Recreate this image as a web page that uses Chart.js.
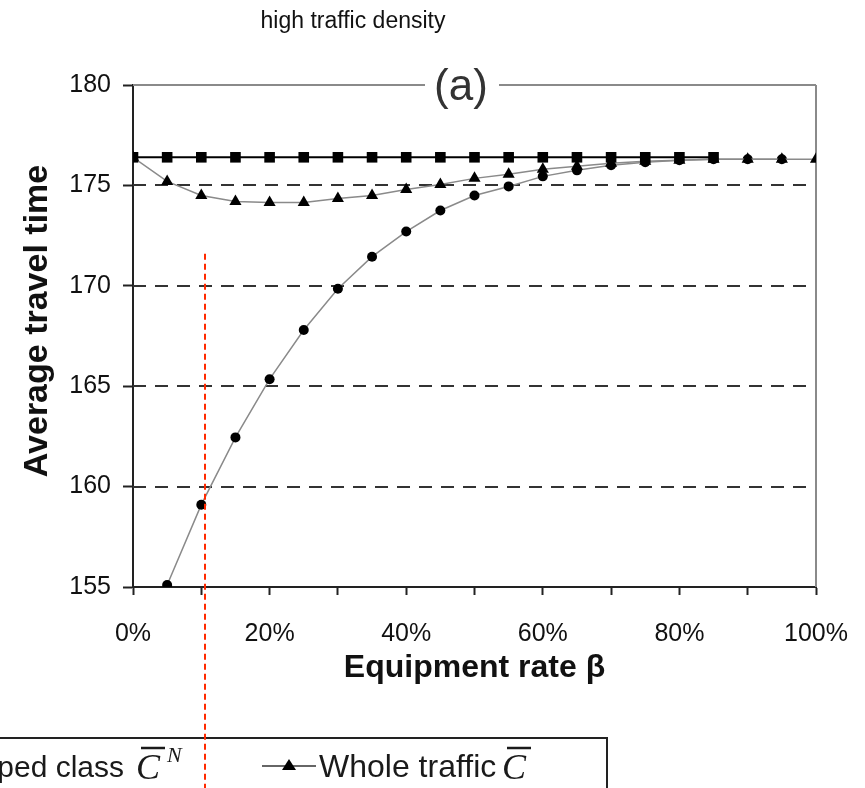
<!DOCTYPE html>
<html>
<head>
<meta charset="utf-8">
<script src="https://cdn.jsdelivr.net/npm/chart.js@4.4.1/dist/chart.umd.min.js"></script>
<style>
  html, body { margin: 0; padding: 0; background: #fff; overflow: hidden; }
  #wrap { width: 865px; height: 788px; position: relative; }
</style>
</head>
<body>
<div id="wrap"><canvas id="travelChart" width="865" height="788"></canvas></div>
<script>
// equipment rate beta (%)
const betaPct = [0, 5, 10, 15, 20, 25, 30, 35, 40, 45, 50, 55, 60, 65, 70, 75, 80, 85, 90, 95, 100];

// average travel time per class
const equippedTime    = [176.4, 176.4, 176.4, 176.4, 176.4, 176.4, 176.4, 176.4, 176.4, 176.4,
                         176.4, 176.4, 176.4, 176.4, 176.4, 176.4, 176.4, 176.4, null, null, null];
const nonEquippedTime = [null, 155.1, 159.1, 162.45, 165.35, 167.8, 169.85, 171.45, 172.7, 173.75,
                         174.5, 174.95, 175.45, 175.75, 176.0, 176.15, 176.25, 176.3, 176.3, 176.3, null];
const wholeTime       = [176.4, 175.2, 174.5, 174.2, 174.15, 174.15, 174.35, 174.5, 174.8, 175.05,
                         175.35, 175.55, 175.8, 175.95, 176.1, 176.2, 176.25, 176.3, 176.3, 176.3, 176.3];

const yMin = 155, yMax = 180, yStep = 5;
const xTickStep = 10, xLabelStep = 20;
const yTitle = 'Average travel time';

// red marker line drawn on top of the figure
const markerBeta = 10.5;
const markerTopTime = 171.6;

const FONT = 'Arial, "Liberation Sans", Helvetica, sans-serif';
const SERIF = '"Liberation Serif", "Times New Roman", serif';

const toPoints = arr => betaPct.map((b, i) => ({ x: b, y: arr[i] }));

function drawLine(ctx, x1, y1, x2, y2) {
  ctx.beginPath();
  ctx.moveTo(x1, y1);
  ctx.lineTo(x2, y2);
  ctx.stroke();
}

// italic C with overline and optional superscript
function drawCbar(ctx, x, base, sup) {
  ctx.save();
  ctx.fillStyle = '#1a1a1a';
  ctx.strokeStyle = '#1a1a1a';
  ctx.font = 'italic 36px ' + SERIF;
  ctx.textAlign = 'left';
  ctx.textBaseline = 'alphabetic';
  ctx.fillText('C', x, base + 2);
  ctx.lineWidth = 2.5;
  drawLine(ctx, x + 5, base - 29, x + 29, base - 29);
  if (sup) {
    ctx.font = 'italic 22px ' + SERIF;
    ctx.fillText(sup, x + 31, base - 15);
  }
  ctx.restore();
}

const figurePlugin = {
  id: 'figure',
  beforeDatasetsDraw(chart) {
    const { ctx, chartArea: a, scales: { x, y } } = chart;
    ctx.save();
    // dashed horizontal grid
    ctx.strokeStyle = '#333';
    ctx.lineWidth = 2;
    ctx.setLineDash([13, 9]);
    y.ticks.forEach(t => {
      if (t.value > yMin && t.value < yMax) {
        const py = Math.round(y.getPixelForValue(t.value));
        drawLine(ctx, a.left, py, a.right, py);
      }
    });
    // top and right frame, gap for the panel label
    ctx.setLineDash([]);
    ctx.strokeStyle = '#8a8a8a';
    const top = Math.round(y.getPixelForValue(yMax));
    drawLine(ctx, a.left, top, 425, top);
    drawLine(ctx, 499, top, a.right, top);
    drawLine(ctx, a.right, top, a.right, a.bottom);
    ctx.restore();
  },
  afterDraw(chart) {
    const { ctx, chartArea: a, scales: { x, y } } = chart;
    ctx.save();
    ctx.fillStyle = '#111';
    ctx.textAlign = 'center';
    ctx.textBaseline = 'middle';
    ctx.font = '23px ' + FONT;
    ctx.fillText('high traffic density', 353, 22);
    ctx.fillStyle = '#333';
    ctx.font = '44px ' + FONT;
    ctx.fillText('(a)', 461, 88);

    // y axis title, sits a little above the axis centre
    ctx.save();
    ctx.translate(38, 321);
    ctx.rotate(-Math.PI / 2);
    ctx.fillStyle = '#111';
    ctx.font = 'bold 34px ' + FONT;
    ctx.fillText(yTitle, 0, 0);
    ctx.restore();

    // legend box (cut by the page edge on the left)
    ctx.fillStyle = '#fff';
    ctx.fillRect(-10, 738, 617, 60);
    ctx.strokeStyle = '#222';
    ctx.lineWidth = 2;
    ctx.strokeRect(-10, 738, 617, 60);
    ctx.fillStyle = '#1a1a1a';
    ctx.font = '30px ' + FONT;
    ctx.textAlign = 'right';
    ctx.textBaseline = 'alphabetic';
    const base = 777;
    ctx.fillText(chart.data.datasets[1].label, 124, base);
    drawCbar(ctx, 136, base, 'N');

    ctx.strokeStyle = '#333';
    ctx.lineWidth = 1.5;
    drawLine(ctx, 262, 766, 316, 766);
    ctx.fillStyle = '#000';
    ctx.beginPath();
    ctx.moveTo(289, 759);
    ctx.lineTo(296, 770);
    ctx.lineTo(282, 770);
    ctx.closePath();
    ctx.fill();
    ctx.fillStyle = '#1a1a1a';
    ctx.textAlign = 'left';
    ctx.font = '32px ' + FONT;
    ctx.fillText(chart.data.datasets[2].label, 319, base);
    drawCbar(ctx, 502, base, '');

    // red dashed marker
    ctx.strokeStyle = '#ff2a00';
    ctx.lineWidth = 2;
    ctx.setLineDash([6, 4]);
    const mx = Math.round(x.getPixelForValue(markerBeta));
    drawLine(ctx, mx, y.getPixelForValue(markerTopTime), mx, chart.height);
    ctx.restore();
  }
};

new Chart(document.getElementById('travelChart'), {
  type: 'line',
  data: {
    datasets: [{
      label: 'Equipped class',
      data: toPoints(equippedTime),
      borderColor: '#000',
      borderWidth: 2,
      pointStyle: 'rect',
      pointRadius: 7.5,
      pointBackgroundColor: '#000',
      pointBorderWidth: 0,
      order: 0,
    }, {
      label: 'Non-equipped class',
      data: toPoints(nonEquippedTime),
      borderColor: '#8a8a8a',
      borderWidth: 1.5,
      pointStyle: 'circle',
      pointRadius: 5,
      pointBackgroundColor: '#000',
      pointBorderWidth: 0,
      order: 2,
    }, {
      label: 'Whole traffic',
      data: toPoints(wholeTime),
      borderColor: '#8a8a8a',
      borderWidth: 1.5,
      pointStyle: 'triangle',
      pointRadius: 7,
      pointBackgroundColor: '#000',
      pointBorderWidth: 0,
      order: 1,
    }]
  },
  options: {
    responsive: false,
    animation: false,
    layout: { padding: { left: 0, top: 85, right: 49, bottom: 101 } },
    scales: {
      x: {
        type: 'linear',
        min: 0,
        max: 100,
        ticks: {
          stepSize: xTickStep,
          autoSkip: false,
          maxRotation: 0,
          padding: 24,
          color: '#111',
          font: { family: FONT, size: 25 },
          callback: v => (v % xLabelStep === 0 ? v + '%' : ''),
        },
        grid: { drawOnChartArea: false, tickLength: 8, tickColor: '#222', tickWidth: 2 },
        border: { color: '#222', width: 2 },
        title: { display: true, text: 'Equipment rate β', color: '#111', font: { family: FONT, size: 32, weight: 'bold' }, padding: { top: 0, bottom: 0 } },
        // fixed box: the layout padding already leaves room for the end labels
        afterFit: s => { s.height = 100; s.paddingLeft = 0; s.paddingRight = 0; },
      },
      y: {
        min: yMin,
        max: yMax,
        ticks: { stepSize: yStep, padding: 12, color: '#111', font: { family: FONT, size: 25 } },
        grid: { drawOnChartArea: false, tickLength: 10, tickColor: '#222', tickWidth: 2 },
        border: { color: '#222', width: 2 },
        title: { display: false },
        afterFit: s => { s.width = 133; },
      }
    },
    plugins: {
      legend: { display: false },
      tooltip: { enabled: false },
    }
  },
  plugins: [figurePlugin]
});
</script>
</body>
</html>
